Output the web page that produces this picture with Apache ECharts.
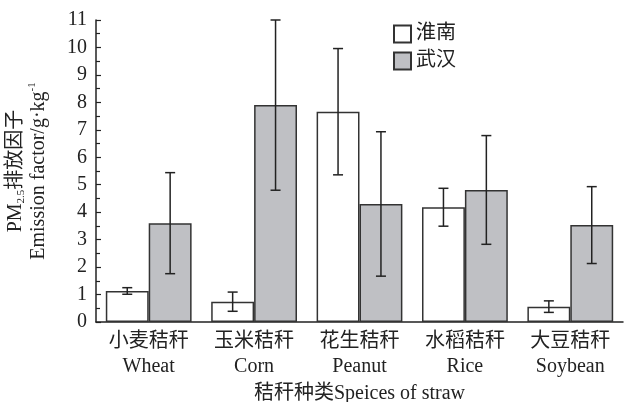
<!DOCTYPE html>
<html>
<head>
    <meta charset="utf-8">
    <script src="https://cdn.jsdelivr.net/npm/echarts@6/dist/echarts.min.js"></script>
    <style>
        html, body { margin: 0; padding: 0; background: #fff; }
        #main { width: 624px; height: 402px; }
    </style>
</head>

<body>
    <div id="main"></div>

    <script type="text/javascript">
        var myChart = echarts.init(document.getElementById('main'));

        var font = '"Liberation Serif", "Noto Sans CJK SC", serif';

        var categories = ['小麦秸秆\nWheat', '玉米秸秆\nCorn', '花生秸秆\nPeanut', '水稻秸秆\nRice', '大豆秸秆\nSoybean'];
        var seriesNames = ['淮南', '武汉'];

        // mean values and standard deviation
        var huainan = [1.13, 0.74, 7.66, 4.18, 0.56];
        var huainanErr = [0.12, 0.35, 2.3, 0.69, 0.21];
        var wuhan = [3.6, 7.9, 4.3, 4.81, 3.53];
        var wuhanErr = [1.84, 3.1, 2.63, 1.98, 1.4];

        var yTicks = [0, 1, 2, 3, 4, 5, 6, 7, 8, 9, 10, 11];

        var gapRatio = 0.186;

        function errData(vals, errs) {
            return vals.map(function (v, i) {
                return [i, v - errs[i], v + errs[i]];
            });
        }

        function errRender(side) {
            return function (params, api) {
                var idx = api.value(0);
                var band = api.size([1, 0])[0];
                var bw = band * (1 - gapRatio) / 2;
                var lo = api.coord([idx, api.value(1)]);
                var hi = api.coord([idx, api.value(2)]);
                var x = lo[0] + side * bw / 2;
                var cap = 5;
                var style = { stroke: '#222', lineWidth: 1.5 };
                return {
                    type: 'group',
                    children: [
                        { type: 'line', shape: { x1: x, y1: lo[1], x2: x, y2: hi[1] }, style: style },
                        { type: 'line', shape: { x1: x - cap, y1: lo[1], x2: x + cap, y2: lo[1] }, style: style },
                        { type: 'line', shape: { x1: x - cap, y1: hi[1], x2: x + cap, y2: hi[1] }, style: style }
                    ]
                };
            };
        }

        myChart.setOption({
            backgroundColor: '#fff',
            animation: false,
            textStyle: { fontFamily: font, color: '#222' },
            legend: {
                data: seriesNames.map(function (n) { return { name: n, icon: 'rect' }; }),
                orient: 'vertical',
                left: 388,
                top: 19,
                itemWidth: 17,
                itemHeight: 17,
                itemGap: 7,
                textStyle: { fontFamily: font, fontSize: 20, color: '#222' }
            },
            grid: {
                left: 96,
                right: 1,
                top: 20,
                bottom: 80,
                outerBoundsMode: 'none'
            },
            xAxis: {
                type: 'category',
                data: categories,
                name: '秸秆种类Speices of straw',
                nameLocation: 'middle',
                nameGap: 58,
                nameTextStyle: { fontFamily: font, fontSize: 20, color: '#222' },
                axisLine: { lineStyle: { color: '#222', width: 1.5 } },
                axisTick: { show: false },
                axisLabel: {
                    fontFamily: font,
                    fontSize: 20,
                    color: '#222',
                    lineHeight: 25,
                    margin: 7
                }
            },
            yAxis: {
                type: 'value',
                min: 0,
                max: 11,
                interval: 1,
                name: '{a|PM}{s|2.5}{a|排放因子}\n{a|Emission factor/g·kg}{p|-1}',
                nameLocation: 'middle',
                nameGap: 46,
                nameTextStyle: {
                    color: '#222',
                    lineHeight: 23,
                    rich: {
                        a: { fontFamily: font, fontSize: 20, color: '#222' },
                        s: { fontFamily: font, fontSize: 11, color: '#222', verticalAlign: 'bottom', padding: [9, 0, 0, 0] },
                        p: { fontFamily: font, fontSize: 11, color: '#222', verticalAlign: 'top', padding: [0, 0, 9, 0] }
                    }
                },
                axisLine: { show: true, lineStyle: { color: '#222', width: 1.5 } },
                axisTick: { show: true, inside: true, length: 5, lineStyle: { color: '#222', width: 1.2 } },
                minorTick: { show: true, splitNumber: 2, length: 4, lineStyle: { color: '#222', width: 1.2 } },
                splitLine: { show: false },
                axisLabel: {
                    fontFamily: font,
                    fontSize: 20,
                    color: '#222',
                    margin: 9,
                    formatter: function (v) { return yTicks.indexOf(v) >= 0 ? String(v) : ''; }
                }
            },
            series: [{
                name: seriesNames[0],
                type: 'bar',
                data: huainan,
                barGap: '0%',
                barCategoryGap: (gapRatio * 100) + '%',
                itemStyle: { color: '#ffffff', borderColor: '#333', borderWidth: 1.5 }
            }, {
                name: seriesNames[1],
                type: 'bar',
                data: wuhan,
                itemStyle: { color: '#bfc0c4', borderColor: '#333', borderWidth: 1.5 }
            }, {
                type: 'custom',
                renderItem: errRender(-1),
                data: errData(huainan, huainanErr),
                encode: { x: 0, y: [1, 2] },
                z: 10
            }, {
                type: 'custom',
                renderItem: errRender(1),
                data: errData(wuhan, wuhanErr),
                encode: { x: 0, y: [1, 2] },
                z: 10
            }]
        });
    </script>
</body>

</html>
